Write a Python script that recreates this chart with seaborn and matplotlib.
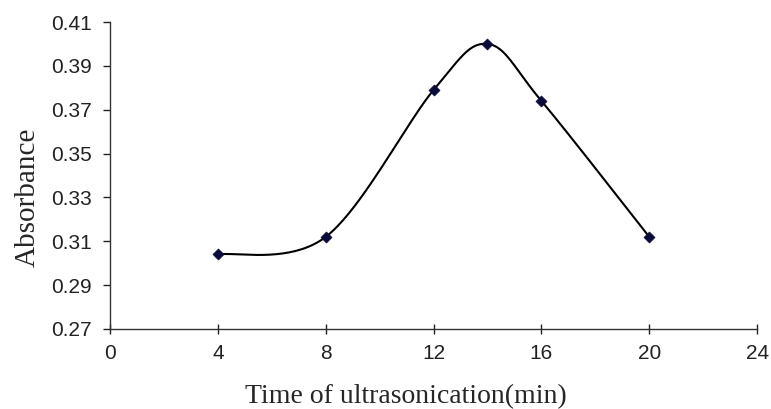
import numpy as np
import pandas as pd
import matplotlib
matplotlib.use('Agg')
import matplotlib.pyplot as plt
import seaborn as sns

# Data
time_min = [4, 8, 12, 14, 16, 20]
absorbance = [0.304, 0.312, 0.379, 0.400, 0.374, 0.312]
x_ticks = [0, 4, 8, 12, 16, 20, 24]
y_ticks = [0.27, 0.29, 0.31, 0.33, 0.35, 0.37, 0.39, 0.41]


def excel_smooth(xs, ys, n=40):
    # Bezier smoothing like Excel's "smoothed line" (Catmull-Rom style control points)
    p = np.column_stack([xs, ys]).astype(float)
    out = []
    for i in range(len(p) - 1):
        p0 = p[i - 1] if i > 0 else p[i]
        p1 = p[i]
        p2 = p[i + 1]
        p3 = p[i + 2] if i + 2 < len(p) else p[i + 1]
        b1 = p1 + (p2 - p0) / 6
        b2 = p2 - (p3 - p1) / 6
        t = np.linspace(0, 1, n)[:, None]
        seg = ((1 - t) ** 3) * p1 + 3 * ((1 - t) ** 2) * t * b1 + 3 * (1 - t) * t ** 2 * b2 + t ** 3 * p2
        out.append(seg if i == 0 else seg[1:])
    out = np.vstack(out)
    return out[:, 0], out[:, 1]


sx, sy = excel_smooth(time_min, absorbance)
curve = pd.DataFrame({'time': sx, 'abs': sy})
points = pd.DataFrame({'time': time_min, 'abs': absorbance})

sns.set_style('white')
plt.rcParams['font.family'] = ['Liberation Sans', 'DejaVu Sans']

fig = plt.figure(figsize=(7.71, 4.09), dpi=100)
ax = fig.add_axes([0.1427, 0.1956, 0.8393, 0.7506])

sns.lineplot(data=curve, x='time', y='abs', color='black', linewidth=1.5, sort=False, ax=ax)
sns.scatterplot(data=points, x='time', y='abs', marker='D', s=32, color='#0a0a3a',
                edgecolor='#0a0a3a', zorder=3, ax=ax)

ax.set_xlim(0, 24)
ax.set_ylim(0.27, 0.41)
ax.set_xticks(x_ticks)
ax.set_yticks(y_ticks)
ax.set_yticklabels([f'{v:.2f}' for v in y_ticks])
ax.tick_params(axis='both', labelsize=15, colors='#222222', width=1)
ax.tick_params(axis='x', direction='inout', length=7, pad=7, bottom=True)
ax.tick_params(axis='y', direction='out', length=5, pad=8, left=True)

for side in ['top', 'right']:
    ax.spines[side].set_visible(False)
for side in ['left', 'bottom']:
    ax.spines[side].set_color('#333333')
    ax.spines[side].set_linewidth(1)

ax.set_xlabel('Time of ultrasonication(min)', family='Liberation Serif', fontsize=20)
ax.set_ylabel('Absorbance', family='Liberation Serif', fontsize=21)
ax.xaxis.set_label_coords(0.457, -0.18)
ax.yaxis.set_label_coords(-0.107, 0.43)

fig.savefig('out.png', dpi=100)
